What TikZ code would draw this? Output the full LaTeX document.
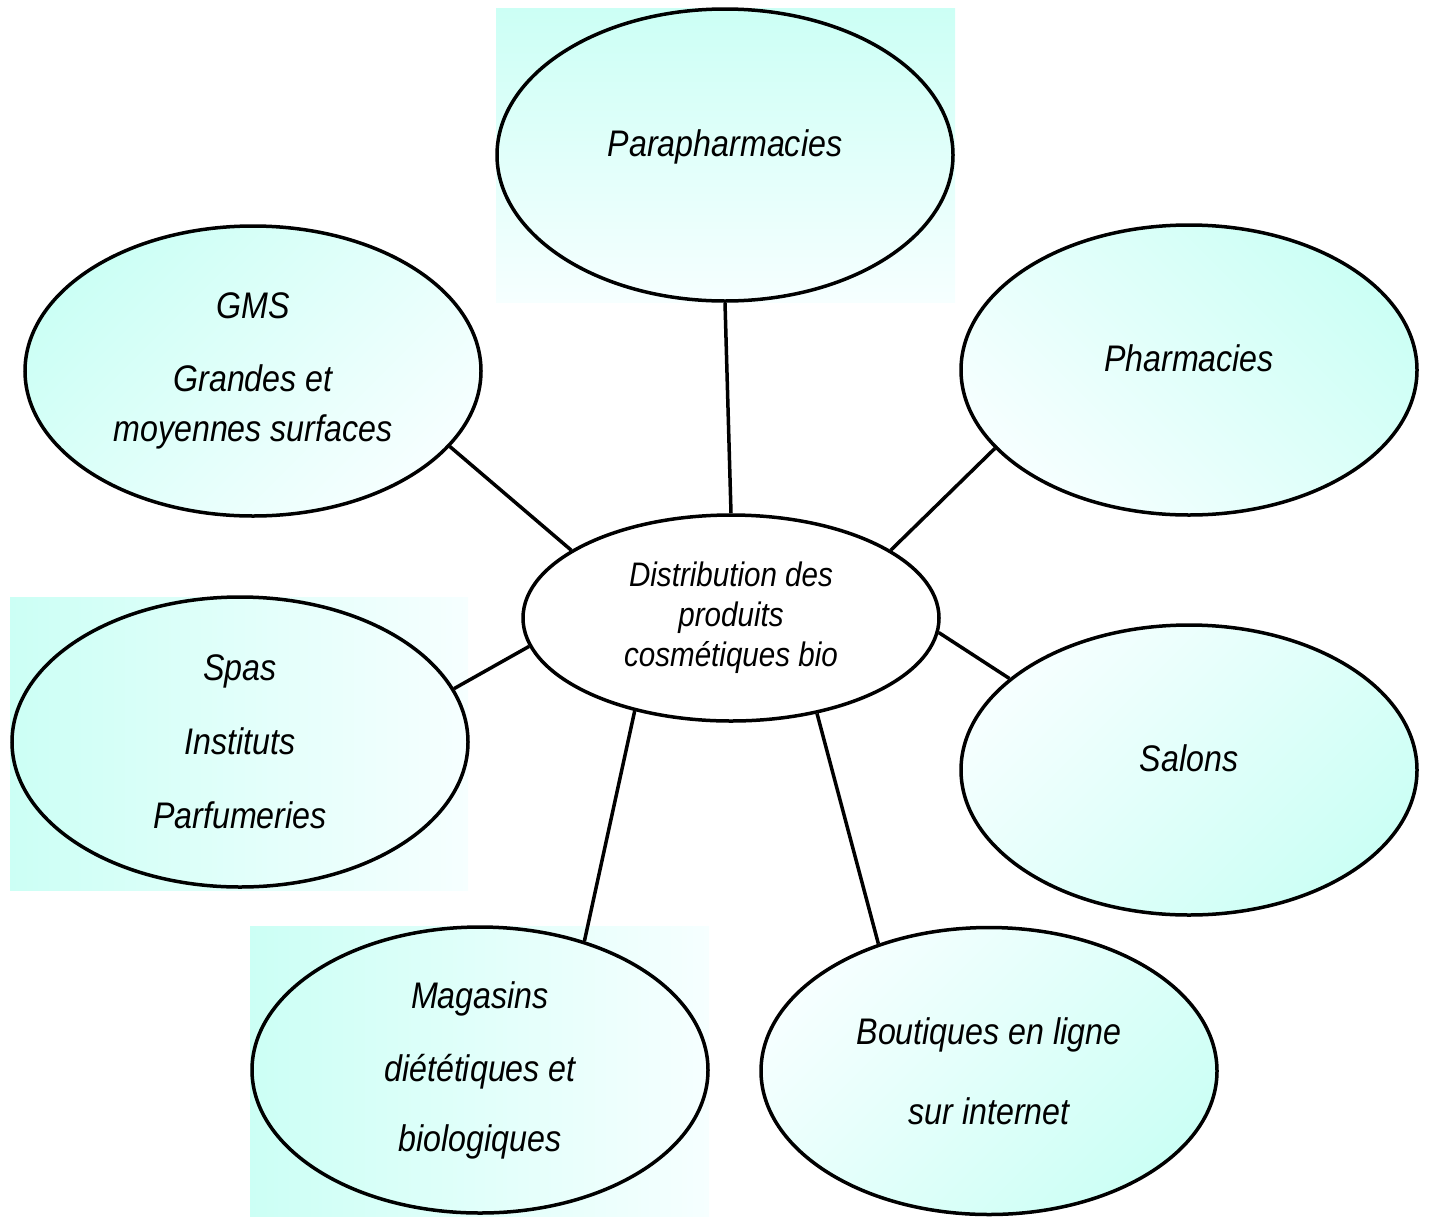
\documentclass[tikz,border=0pt]{standalone}
\usepackage{fontspec}
\newfontfamily\canalfont{Liberation Sans}[FakeStretch=0.87]
\usetikzlibrary{shapes.geometric}
\definecolor{menthe}{RGB}{204,255,245}
\definecolor{givre}{RGB}{246,255,255}
\newcommand{\canal}[4][]{
	% one channel of distribution
	\node [canal, #1] (#2) at (#3) {#4};
}
\newcommand{\lien}[2]{
	\path [draw, line width=3.5pt] (#1) -- (#2);
}
\tikzset{
	canal/.style={ellipse, draw, line width=3.5pt, minimum width=456pt,
		minimum height=290pt, inner sep=0pt, align=center,
		font=\canalfont\itshape\fontsize{37}{50}\selectfont},
	diag/.style={top color=menthe, bottom color=givre, shading angle=#1},
	diaginv/.style={top color=givre, bottom color=menthe, shading angle=#1}
}

\begin{document}
\begin{tikzpicture}[x=1pt, y=-1pt]
		\useasboundingbox (0,0) rectangle (1429,1216);
		% shaded frames behind three of the ellipses
		\shade [top color=menthe, bottom color=givre] (496,8) rectangle (955,302);
		\shade [left color=menthe, right color=givre] (10,597) rectangle (468,890);
		\shade [left color=menthe, right color=givre] (250,926) rectangle (709,1216);
		
		\canal[minimum height=292pt]{para}{725,155}{Parapharmacies\\[-26pt]}
		\canal[diag=45]{gms}{253,371}{GMS\\[23pt]Grandes et\\moyennes surfaces}
		\canal[diag=-45]{pharma}{1189,370}{Pharmacies\\[-26pt]}
		\canal{spas}{240,742}{Spas\\[24pt]Instituts\\[24pt]Parfumeries}
		\canal[diaginv=45]{salons}{1189,770}{Salons\\[-26pt]}
		\canal[minimum height=286pt]{magasins}{480,1070}{Magasins\\[23pt]di\'et\'etiques et\\[20pt]biologiques}
		\canal[diaginv=45, minimum height=287pt]{boutiques}{989,1071}{Boutiques en ligne\\[30pt]sur internet}
		\node [canal, fill=white, minimum width=416pt, minimum height=206pt,
			font=\canalfont\itshape\fontsize{34}{40}\selectfont] (centre) at (731,618)
			{Distribution des\\produits\\cosm\'etiques bio};
		
		\lien{para.south}{centre.north}
		\lien{gms.-21}{centre.157}
		\lien{pharma.-158}{centre.23}
		\lien{spas.14}{centre.188}
		\lien{salons.153}{centre.-4}
		\lien{magasins.51}{centre.224}
		\lien{boutiques.131}{centre.-48}
\end{tikzpicture}
\end{document}
